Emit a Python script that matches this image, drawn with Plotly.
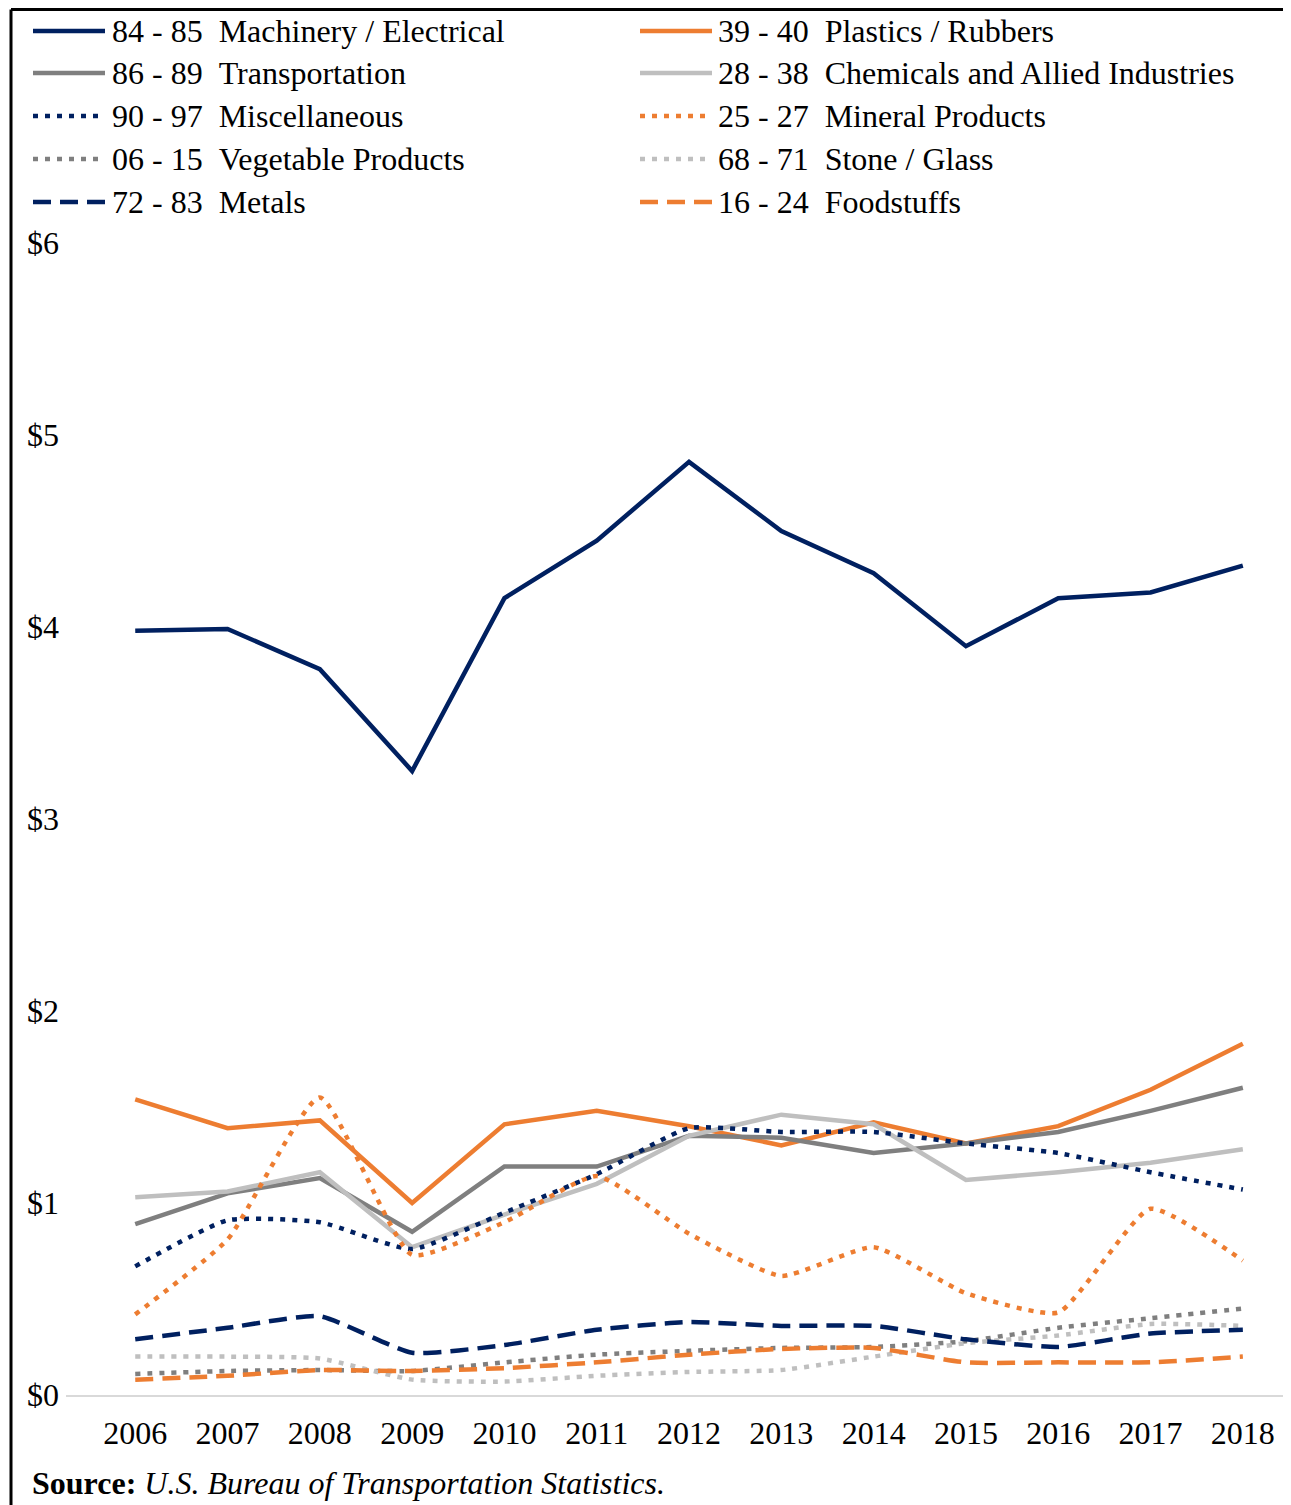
import plotly.graph_objects as go

years = [2006, 2007, 2008, 2009, 2010, 2011, 2012, 2013, 2014, 2015, 2016, 2017, 2018]

machinery = [3.98, 3.99, 3.78, 3.25, 4.15, 4.45, 4.86, 4.50, 4.28, 3.90, 4.15, 4.18, 4.32]
plastics = [1.54, 1.39, 1.43, 1.00, 1.41, 1.48, 1.40, 1.30, 1.42, 1.31, 1.40, 1.59, 1.83]
transportation = [0.89, 1.05, 1.13, 0.85, 1.19, 1.19, 1.35, 1.34, 1.26, 1.31, 1.37, 1.48, 1.60]
chemicals = [1.03, 1.06, 1.16, 0.77, 0.94, 1.10, 1.35, 1.46, 1.41, 1.12, 1.16, 1.21, 1.28]
miscellaneous = [0.67, 0.91, 0.90, 0.76, 0.95, 1.15, 1.39, 1.37, 1.37, 1.31, 1.26, 1.16, 1.07]
mineral = [0.42, 0.81, 1.55, 0.73, 0.90, 1.14, 0.84, 0.62, 0.77, 0.53, 0.43, 0.97, 0.70]
vegetable = [0.11, 0.125, 0.13, 0.125, 0.17, 0.21, 0.23, 0.245, 0.25, 0.28, 0.35, 0.40, 0.45]
stone = [0.20, 0.20, 0.19, 0.08, 0.07, 0.10, 0.12, 0.13, 0.20, 0.27, 0.31, 0.37, 0.36]
metals = [0.29, 0.35, 0.41, 0.22, 0.26, 0.34, 0.38, 0.36, 0.36, 0.29, 0.25, 0.32, 0.34]
foodstuffs = [0.08, 0.10, 0.13, 0.125, 0.14, 0.17, 0.21, 0.24, 0.245, 0.17, 0.17, 0.17, 0.20]

NAVY = "#002060"
ORANGE = "#ED7D31"
GRAY = "#7F7F7F"
LIGHT = "#BFBFBF"
NB = "\u00a0"

# (label, values, colour, dash) in legend order (row by row)
series = [
    ("84 - 85" + NB * 2 + "Machinery / Electrical", machinery, NAVY, "solid"),
    ("39 - 40" + NB * 2 + "Plastics / Rubbers", plastics, ORANGE, "solid"),
    ("86 - 89" + NB * 2 + "Transportation", transportation, GRAY, "solid"),
    ("28 - 38" + NB * 2 + "Chemicals and Allied Industries", chemicals, LIGHT, "solid"),
    ("90 - 97" + NB * 2 + "Miscellaneous", miscellaneous, NAVY, "dot"),
    ("25 - 27" + NB * 2 + "Mineral Products", mineral, ORANGE, "dot"),
    ("06 - 15" + NB * 2 + "Vegetable Products", vegetable, GRAY, "dot"),
    ("68 - 71" + NB * 2 + "Stone / Glass", stone, LIGHT, "dot"),
    ("72 - 83" + NB * 2 + "Metals", metals, NAVY, "dash"),
    ("16 - 24" + NB * 2 + "Foodstuffs", foodstuffs, ORANGE, "dash"),
]

dash_map = {"solid": "solid", "dot": "5px,7px", "dash": "18px,9px"}

fig = go.Figure()
for name, vals, col, dash in series:
    smooth = dash != "solid"
    fig.add_trace(go.Scatter(
        x=years, y=vals, name=name, mode="lines", showlegend=False,
        line=dict(color=col, width=4.5, dash=dash_map[dash],
                  shape="spline" if smooth else "linear",
                  smoothing=0.5 if smooth else None),
    ))

FONT = "Liberation Serif, Times New Roman, serif"
FS = 32
OFF = 8  # page body margin
W, H = 1291 - OFF, 1505 - OFF
PL, PR, PT, PB = 66, 1289, 243, 1395  # plot area in page pixels
L = PL - OFF
T = PT - OFF
B = H - (PB - OFF)
R = W - (PR - OFF)
pw, ph = W - L - R, H - T - B


def px(x):
    return (x - OFF - L) / pw


def py(y):
    return (H - B - (y - OFF)) / ph


fig.update_layout(
    width=W, height=H,
    margin=dict(l=L, r=R, t=T, b=B),
    paper_bgcolor="white", plot_bgcolor="white",
    font=dict(family=FONT, size=FS, color="black"),
    showlegend=False,
    xaxis=dict(
        range=[2005.25, 2018.5], tickmode="array", tickvals=years,
        ticktext=[str(y) for y in years], showgrid=False, zeroline=False,
        showline=True, linecolor="#D9D9D9", linewidth=2, ticks="",
        ticklabelstandoff=9, tickfont=dict(family=FONT, size=FS),
    ),
    yaxis=dict(
        range=[0, 6], tickvals=[0, 1, 2, 3, 4, 5, 6],
        ticktext=["$0", "$1", "$2", "$3", "$4", "$5", "$6"],
        showgrid=False, zeroline=False, showline=False, ticks="",
        ticklabelstandoff=6, tickfont=dict(family=FONT, size=FS),
    ),
)

# legend: two columns, five rows
row_y = [31, 73, 116, 159, 202]
col_x = [(33, 105, 110), (640, 712, 716)]
for i, (name, vals, col, dash) in enumerate(series):
    x0, x1, tx = col_x[i % 2]
    y = row_y[i // 2]
    fig.add_shape(type="line", xref="paper", yref="paper",
                  x0=px(x0), x1=px(x1), y0=py(y), y1=py(y),
                  line=dict(color=col, width=4.5, dash=dash_map[dash]))
    fig.add_annotation(xref="paper", yref="paper", x=px(tx), y=py(y),
                       xanchor="left", yanchor="middle", showarrow=False,
                       text=name, font=dict(family=FONT, size=FS, color="black"))

fig.add_annotation(
    xref="paper", yref="paper", x=px(30), y=py(1483),
    xanchor="left", yanchor="middle", showarrow=False,
    text="<b>Source:</b> <i>U.S. Bureau of Transportation Statistics.</i>",
    font=dict(family=FONT, size=FS, color="black"),
)

# frame around the exhibit
fig.add_shape(type="line", xref="paper", yref="paper",
              x0=px(11), x1=px(11), y0=py(1510), y1=py(9.5),
              line=dict(color="black", width=3))
fig.add_shape(type="line", xref="paper", yref="paper",
              x0=px(11), x1=px(1295), y0=py(9.5), y1=py(9.5),
              line=dict(color="black", width=3))

fig.write_html("out.html")
